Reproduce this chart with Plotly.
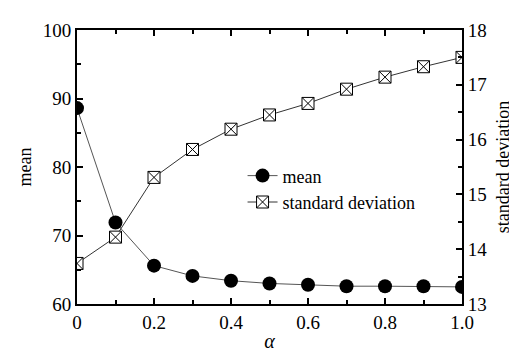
import plotly.graph_objects as go

alpha = [0, 0.1, 0.2, 0.3, 0.4, 0.5, 0.6, 0.7, 0.8, 0.9, 1.0]
mean_vals = [88.6, 71.9, 65.6, 64.1, 63.4, 63.0, 62.8, 62.6, 62.6, 62.6, 62.5]
std_vals = [13.74, 14.22, 15.31, 15.82, 16.19, 16.45, 16.66, 16.92, 17.14, 17.33, 17.5]
x_ticks = [0, 0.2, 0.4, 0.6, 0.8, 1.0]
x_ticklabels = ["0", "0.2", "0.4", "0.6", "0.8", "1.0"]

SERIF = "Liberation Serif, Times New Roman, serif"
font = dict(family=SERIF, size=18, color="black")
tickfont = dict(family=SERIF, size=19, color="black")

fig = go.Figure()
fig.add_trace(go.Scatter(
    x=alpha, y=mean_vals, name="mean", mode="lines+markers",
    line=dict(color="#555555", width=1),
    marker=dict(symbol="circle", size=14, color="black"),
))
fig.add_trace(go.Scatter(
    x=alpha, y=std_vals, name="standard deviation", mode="lines+markers",
    yaxis="y2",
    line=dict(color="#333333", width=1),
    marker=dict(symbol="square-x", size=12, color="white",
                line=dict(color="black", width=1)),
))

fig.update_layout(
    width=517, height=353,
    margin=dict(l=69, r=63, t=14, b=52),
    paper_bgcolor="white", plot_bgcolor="white",
    font=font,
    showlegend=True,
    legend=dict(x=0.43, y=0.535, xanchor="left", yanchor="top",
                bgcolor="rgba(0,0,0,0)", font=dict(family=SERIF, size=18),
                tracegroupgap=0, itemwidth=30),
    xaxis=dict(range=[0, 1.0], tickvals=x_ticks, ticktext=x_ticklabels,
               tickfont=tickfont,
               showline=True, linecolor="black", linewidth=2, mirror="ticks",
               ticks="inside", ticklen=6, tickwidth=1.5, tickcolor="black",
               minor=dict(dtick=0.1, ticks="inside", ticklen=4, tickcolor="black", tickwidth=1.5),
               showgrid=False, zeroline=False,
               title=dict(text="<i>α</i>", standoff=2, font=dict(family=SERIF, size=20))),
    yaxis=dict(range=[60, 100], dtick=10, tickfont=tickfont,
               showline=True, linecolor="black", linewidth=2,
               ticks="inside", ticklen=6, tickwidth=1.5, tickcolor="black",
               minor=dict(dtick=5, ticks="inside", ticklen=4, tickcolor="black", tickwidth=1.5),
               showgrid=False, zeroline=False,
               title=dict(text="mean", standoff=6, font=dict(family=SERIF, size=18))),
    yaxis2=dict(range=[13, 18], dtick=1, overlaying="y", side="right", tickfont=tickfont,
                showline=True, linecolor="black", linewidth=2,
                ticks="inside", ticklen=6, tickwidth=1.5, tickcolor="black",
                minor=dict(dtick=0.5, ticks="inside", ticklen=4, tickcolor="black", tickwidth=1.5),
                showgrid=False, zeroline=False,
                title=dict(text="standard deviation", standoff=10, font=dict(family=SERIF, size=18))),
)

fig.write_html("out.html")
